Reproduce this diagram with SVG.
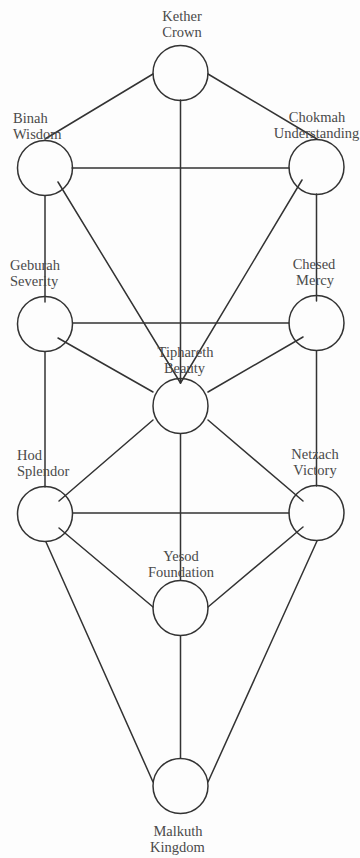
<svg xmlns="http://www.w3.org/2000/svg" width="360" height="858" viewBox="0 0 360 858">
<style>
.bg{fill:#fdfdfd}
.n circle{fill:none;stroke:#333;stroke-width:1.5}
.c line{stroke:#333;stroke-width:1.5;stroke-linecap:round}
text{font-family:"Liberation Serif","Times New Roman",serif;font-size:14.5px;fill:#4a4a4a}
.m{text-anchor:middle}
</style>
<rect class="bg" x="0" y="0" width="360" height="858"/>
<g id="connectors" class="c">
<line x1="153" y1="74" x2="45" y2="139"/>
<line x1="208" y1="74" x2="317" y2="139"/>
<line x1="180.5" y1="100" x2="180.5" y2="383"/>
<line x1="72" y1="168" x2="289" y2="168"/>
<line x1="45" y1="196" x2="45" y2="302"/>
<line x1="316.5" y1="194" x2="316.5" y2="301"/>
<line x1="58" y1="182" x2="180.5" y2="383"/>
<line x1="302" y1="180" x2="180.5" y2="383"/>
<line x1="73" y1="323" x2="289" y2="323"/>
<line x1="58" y1="338" x2="153" y2="392"/>
<line x1="303" y1="337" x2="208" y2="392"/>
<line x1="45" y1="352" x2="45" y2="487"/>
<line x1="316.5" y1="351" x2="316.5" y2="486"/>
<line x1="153" y1="420" x2="59" y2="501"/>
<line x1="208" y1="420" x2="303" y2="501"/>
<line x1="73" y1="513" x2="289" y2="513"/>
<line x1="180.5" y1="434" x2="180.5" y2="580"/>
<line x1="59" y1="528" x2="153" y2="607"/>
<line x1="303" y1="527" x2="208" y2="607"/>
<line x1="180.5" y1="636" x2="180.5" y2="758"/>
<line x1="46" y1="542" x2="153" y2="782"/>
<line x1="317" y1="541" x2="208" y2="782"/>
</g>
<g id="kether" class="n"><circle cx="180.5" cy="73" r="27.5"/><text class="m" x="182" y="21">Kether</text><text class="m" x="182" y="37">Crown</text></g>
<g id="binah" class="n"><circle cx="45" cy="168" r="27.5"/><text x="13" y="123">Binah</text><text x="13" y="139">Wisdom</text></g>
<g id="chokmah" class="n"><circle cx="316.5" cy="167" r="27.5"/><text class="m" x="317" y="122">Chokmah</text><text class="m" x="316.5" y="138">Understanding</text></g>
<g id="geburah" class="n"><circle cx="45" cy="324" r="27.5"/><text x="10" y="270">Geburah</text><text x="10" y="286">Severity</text></g>
<g id="chesed" class="n"><circle cx="316.5" cy="323" r="27.5"/><text class="m" x="314" y="269">Chesed</text><text class="m" x="315" y="285">Mercy</text></g>
<g id="tiphareth" class="n"><circle cx="180.5" cy="406" r="27.5"/><text class="m" x="185.5" y="357">Tiphareth</text><text class="m" x="184.5" y="373">Beauty</text></g>
<g id="hod" class="n"><circle cx="45" cy="514" r="27.5"/><text x="17" y="460">Hod</text><text x="17" y="476">Splendor</text></g>
<g id="netzach" class="n"><circle cx="316.5" cy="513" r="27.5"/><text class="m" x="315" y="459">Netzach</text><text class="m" x="315" y="475">Victory</text></g>
<g id="yesod" class="n"><circle cx="180.5" cy="608" r="27.5"/><text class="m" x="181" y="561">Yesod</text><text class="m" x="181" y="577">Foundation</text></g>
<g id="malkuth" class="n"><circle cx="180.5" cy="786" r="27.5"/><text class="m" x="178" y="836">Malkuth</text><text class="m" x="177.5" y="852">Kingdom</text></g>
</svg>
